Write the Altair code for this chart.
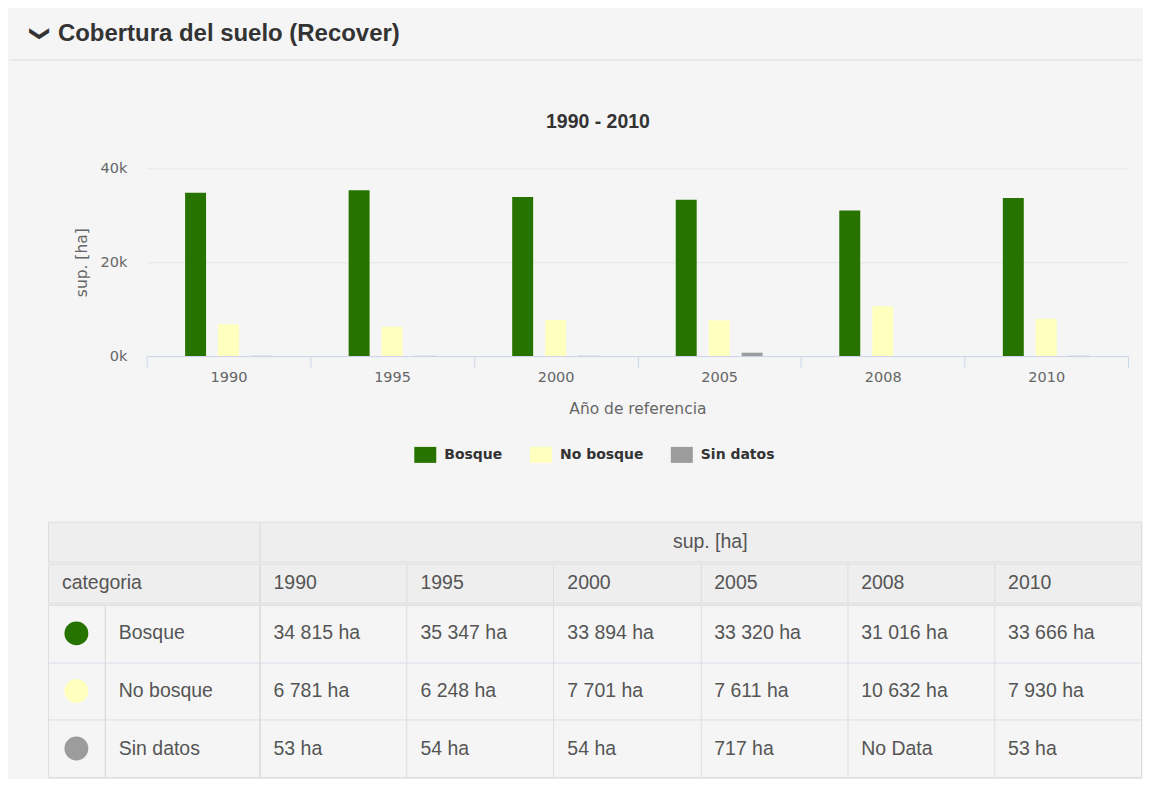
import altair as alt
import pandas as pd

# ---------------- data ----------------
YEARS = ['1990', '1995', '2000', '2005', '2008', '2010']
CATS = ['Bosque', 'No bosque', 'Sin datos']
BOSQUE = [34815, 35347, 33894, 33320, 31016, 33666]
NO_BOSQUE = [6781, 6248, 7701, 7611, 10632, 7930]
SIN_DATOS = [53, 54, 54, 717, None, 53]
COLORS = ['#267300', '#ffffbe', '#9c9c9c']
Y_TICKS = [0, 20000, 40000]

PANEL_TITLE = 'Cobertura del suelo (Recover)'
CHEVRON = '\u276f'
CHART_TITLE = '1990 - 2010'
X_TITLE = 'Año de referencia'
Y_TITLE = 'sup. [ha]'
TABLE_GROUP = 'sup. [ha]'
TABLE_CAT = 'categoria'
NO_DATA = 'No Data'

rows = []
for cat, vals in zip(CATS, [BOSQUE, NO_BOSQUE, SIN_DATOS]):
    for yr, v in zip(YEARS, vals):
        rows.append({
            'year': yr, 'category': cat, 'value': v,
            'label': NO_DATA if v is None else f"{v:,}".replace(',', ' ') + ' ha',
        })
df = pd.DataFrame(rows)
df_bars = df.dropna(subset=['value'])
df_cats = pd.DataFrame({'category': CATS})
df_years = pd.DataFrame({'year': YEARS})

# empty slots on both sides of each group of bars (group padding)
OFFSET_DOMAIN = ['_left'] + CATS + ['_right']

AX_FONT = 'DejaVu Sans'
AX_COL = '#666666'
DARK = '#333333'
BORDER = '#dddddd'
GRID_H = '#d8dee8'
HDR_FILL = '#eeeeee'
TFONT = dict(font='Liberation Sans', fontSize=19.5, color='#555555')

HDR_H = 101
MID_GAP = 55

# ---------------- panel header ----------------
one = pd.DataFrame({'t': [PANEL_TITLE]})
hdr_line = alt.Chart(one).mark_rule(color=BORDER, strokeWidth=1).encode(
    x=alt.value(0), x2=alt.value(1135), y=alt.value(50.5))
chevron = alt.Chart(pd.DataFrame({'t': [CHEVRON]})).mark_text(
    angle=90, align='center', baseline='middle', font='DejaVu Sans',
    fontSize=20, fontWeight='bold', color=DARK
).encode(x=alt.value(31), y=alt.value(24), text='t:N')
hdr_text = alt.Chart(one).mark_text(
    align='left', baseline='alphabetic', font='Liberation Sans', fontSize=24,
    fontWeight='bold', color=DARK
).encode(x=alt.value(49), y=alt.value(31.5), text='t:N')
header = alt.layer(hdr_line, chevron, hdr_text).properties(
    width=1133, height=HDR_H, view=alt.ViewBackground(stroke='transparent'))

# ---------------- bar chart ----------------
bars = alt.Chart(df_bars).mark_bar().encode(
    x=alt.X('year:N', sort=YEARS, scale=alt.Scale(paddingInner=0, paddingOuter=0),
            axis=alt.Axis(title=X_TITLE, labelAngle=0, tickBand='extent', tickSize=11,
                          tickColor='#ccd6eb', domainColor='#ccd6eb', grid=False,
                          labelFont=AX_FONT, labelFontSize=14.5, labelColor=AX_COL,
                          labelPadding=3, titleFont=AX_FONT, titleFontSize=15.5,
                          titleFontWeight='normal', titleColor=AX_COL, titlePadding=18)),
    xOffset=alt.XOffset('category:N',
                        scale=alt.Scale(domain=OFFSET_DOMAIN, paddingInner=0.364,
                                        paddingOuter=0.164)),
    y=alt.Y('value:Q', scale=alt.Scale(domain=[0, 40000], nice=False),
            axis=alt.Axis(title=Y_TITLE, values=Y_TICKS,
                          labelExpr="datum.value / 1000 + 'k'", domain=False,
                          ticks=False, tickSize=0, grid=True, gridColor='#e6e6e6',
                          labelFont=AX_FONT, labelFontSize=14.5, labelColor=AX_COL,
                          labelPadding=20, minExtent=74, titleX=-65, titleY=94,
                          titleAngle=270, titleAlign='center', titleBaseline='middle',
                          titleFont=AX_FONT, titleFontSize=15.5,
                          titleFontWeight='normal', titleColor=AX_COL)),
    color=alt.Color('category:N', sort=CATS,
                    scale=alt.Scale(domain=CATS, range=COLORS),
                    legend=alt.Legend(title=None, orient='none', legendX=268, legendY=276,
                                      direction='horizontal',
                                      symbolType='M-1,-0.727H1V0.727H-1Z', symbolSize=484,
                                      symbolStrokeWidth=0, symbolOpacity=1,
                                      labelFont=AX_FONT, labelFontSize=14,
                                      labelFontWeight='bold', labelColor=DARK,
                                      labelOffset=8, columnPadding=27, padding=0)),
).properties(
    width=983, height=188,
    title=alt.TitleParams(CHART_TITLE, font='Liberation Sans', fontSize=19.5,
                          fontWeight='bold', color=DARK, anchor='middle', dx=-39.5,
                          offset=28),
    view=alt.ViewBackground(stroke='transparent'),
)


def spacer(w, h):
    return alt.Chart(pd.DataFrame({'a': [0]})).mark_point(opacity=0).properties(
        width=w, height=h, view=alt.ViewBackground(stroke='transparent'))


# ---------------- table ----------------
def gx():
    return alt.Axis(title=None, labels=False, ticks=False, domain=False, grid=True,
                    gridColor=BORDER, tickBand='extent', minExtent=0)


def gy():
    return alt.Axis(title=None, labels=False, ticks=False, domain=False, grid=True,
                    gridColor=GRID_H, tickBand='extent', minExtent=0)


band = alt.Scale(paddingInner=0, paddingOuter=0)
hdr_view = alt.ViewBackground(fill=HDR_FILL, stroke=BORDER)
body_view = alt.ViewBackground(stroke=BORDER)

h1l = alt.Chart(pd.DataFrame({'t': ['']})).mark_text(**TFONT).encode(
    text='t:N').properties(width=212, height=40, view=hdr_view)
h1r = alt.Chart(pd.DataFrame({'t': [TABLE_GROUP]})).mark_text(dx=10, **TFONT).encode(
    text='t:N').properties(width=883, height=40, view=hdr_view)
h2l = alt.Chart(pd.DataFrame({'t': [TABLE_CAT]})).mark_text(align='left', **TFONT).encode(
    x=alt.value(14), text='t:N').properties(width=212, height=39, view=hdr_view)
h2r = alt.Chart(df_years).mark_text(align='left', dx=14, **TFONT).encode(
    x=alt.X('year:N', sort=YEARS, bandPosition=0, scale=band, axis=gx()),
    text='year:N').properties(width=883, height=39, view=hdr_view)

bdot = alt.Chart(df_cats).mark_circle(size=572, opacity=1).encode(
    y=alt.Y('category:N', sort=CATS, scale=band, axis=gy()),
    color=alt.Color('category:N', scale=alt.Scale(domain=CATS, range=COLORS), legend=None),
).properties(width=57, height=173, view=body_view)
bname = alt.Chart(df_cats).mark_text(align='left', **TFONT).encode(
    x=alt.value(14),
    y=alt.Y('category:N', sort=CATS, scale=band, axis=gy()),
    text='category:N').properties(width=155, height=173, view=body_view)
bvals = alt.Chart(df).mark_text(align='left', dx=14, **TFONT).encode(
    x=alt.X('year:N', sort=YEARS, bandPosition=0, scale=band, axis=gx()),
    y=alt.Y('category:N', sort=CATS, scale=band, axis=gy()),
    text='label:N').properties(width=883, height=173, view=body_view)

table = alt.vconcat(
    alt.hconcat(h1l, h1r, spacing=0, bounds='flush'),
    alt.hconcat(h2l, h2r, spacing=0, bounds='flush'),
    alt.hconcat(bdot, bname, bvals, spacing=0, bounds='flush'),
    spacing=0)
table_row = alt.hconcat(spacer(37, 10), table, spacing=0)

# ---------------- assemble ----------------
# a blank column before the bar chart puts its plot area under the panel
bars_row = alt.hconcat(spacer(62, 1), bars, spacing=0).resolve_scale(color='independent')
chart = alt.vconcat(header, bars_row, spacer(10, MID_GAP), table_row,
                    spacing=0).resolve_scale(color='independent').properties(
    background='#f5f5f5', padding=0
).configure_view(stroke=None)

chart.save("out.html", embed_options={"renderer": "svg", "actions": False})
